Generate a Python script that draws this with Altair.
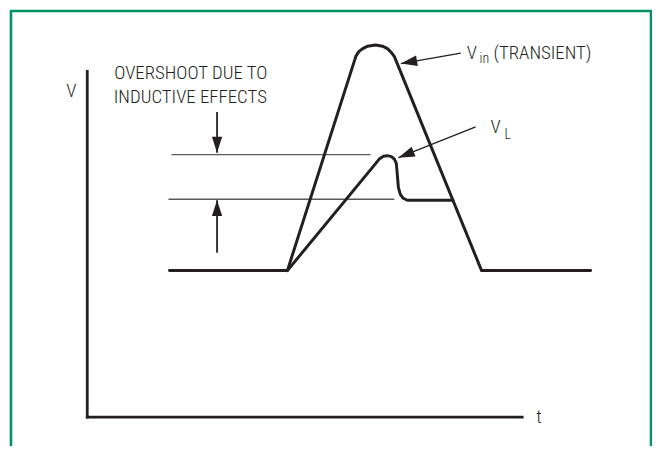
import math
import altair as alt
import pandas as pd

# ---- data, in axis units (t to the right, V upward; origin at the axes corner) ----
# V_in (transient) curve
vin_t = [83, 202, 271, 274, 278, 283, 291, 298, 303, 307, 310, 398, 508]
vin_v = [148, 148, 364, 369, 372, 374.5, 375.7, 374.5, 372, 368, 364, 148, 148]
# V_L curve
vl_t = [202, 291, 295, 299, 303, 307, 310, 312, 313, 314, 316, 319, 323, 369]
vl_v = [148, 256, 261, 263.5, 264, 263, 260.5, 256, 244, 232, 225, 221, 219, 219]
# axes
axis_names = ["yaxis", "yaxis", "xaxis", "xaxis"]
axis_t = [0, 0, 0, 439]
axis_v = [349, 0, 0, 0]
# thin reference levels (overshoot)
lvl_names = ["upper", "upper", "lower", "lower"]
lvl_t = [85, 286, 82, 310]
lvl_v = [265, 265, 220, 220]
# arrows: tail -> tip
arrow_names = ["down", "up", "vin", "vl"]
tail_t = [131, 131, 377, 392]
tail_v = [308, 166, 367.5, 293]
tip_t = [131, 131, 316.5, 314]
tip_v = [267, 219, 357, 262]
# labels
center_labels = ["OVERSHOOT DUE TO", "INDUCTIVE EFFECTS", "V", "t"]
center_t = [104.5, 104, -16, 456]
center_v = [341.5, 317, 323, -6]
left_labels = ["V", "(TRANSIENT)", "V"]
left_t = [383, 410, 407]
left_v = [362, 362, 287]
sub_labels = ["in", "L"]
sub_t = [396, 421]
sub_v = [357.5, 281]
# frame (left, top, right edges)
frame_names = ["f", "f", "f", "f"]
frame_t = [-77, -77, 569, 569]
frame_v = [-30, 410, 410, -30]

INK = "#231f20"
FONT = "Roboto Condensed, DejaVu Sans Condensed, Roboto, sans-serif"

xs = alt.Scale(domain=[-80, 570], nice=False, zero=False)
ys = alt.Scale(domain=[-27, 411], nice=False, zero=False)


def X():
    return alt.X("t:Q", scale=xs, axis=None)


def Y():
    return alt.Y("V:Q", scale=ys, axis=None)


def path_df(groups):
    rows = []
    for name, ts, vs in groups:
        for i, (a, b) in enumerate(zip(ts, vs)):
            rows.append({"g": name, "o": i, "t": a, "V": b})
    return pd.DataFrame(rows)


def split_df(names, ts, vs):
    rows = []
    cnt = {}
    for n, a, b in zip(names, ts, vs):
        cnt[n] = cnt.get(n, -1) + 1
        rows.append({"g": n, "o": cnt[n], "t": a, "V": b})
    return pd.DataFrame(rows)


curves = path_df([("vin", vin_t, vin_v), ("vl", vl_t, vl_v)])
axes_df = split_df(axis_names, axis_t, axis_v)
lvl_df = split_df(lvl_names, lvl_t, lvl_v)
frame_df = split_df(frame_names, frame_t, frame_v)

shaft_rows = []
head_rows = []
for n, a, b, c, d in zip(arrow_names, tail_t, tail_v, tip_t, tip_v):
    shaft_rows.append({"g": n, "o": 0, "t": a, "V": b})
    shaft_rows.append({"g": n, "o": 1, "t": c, "V": d})
    ang = math.degrees(math.atan2(c - a, d - b)) % 360
    head_rows.append({"g": n, "t": c, "V": d, "ang": ang})
shaft_df = pd.DataFrame(shaft_rows)
head_df = pd.DataFrame(head_rows)
vert_shafts = shaft_df[shaft_df.g.isin(["down", "up"])]
diag_shafts = shaft_df[shaft_df.g.isin(["vin", "vl"])]
vert_heads = head_df[head_df.g.isin(["down", "up"])]
diag_heads = head_df[head_df.g.isin(["vin", "vl"])]

HEAD = "M0,0L0.65,2L-0.65,2Z"


def lines(df, width, color, cap="butt"):
    return alt.Chart(df).mark_line(
        strokeWidth=width, color=color, strokeJoin="round", strokeCap=cap
    ).encode(x=X(), y=Y(), detail="g:N", order="o:Q")


def heads(df, size):
    return alt.Chart(df).mark_point(
        shape=HEAD, filled=True, color=INK, opacity=1, size=size, strokeWidth=0
    ).encode(x=X(), y=Y(), angle=alt.Angle("ang:Q", scale=None))


def texts(labels, ts, vs, align, size):
    df = pd.DataFrame({"lab": labels, "t": ts, "V": vs})
    return alt.Chart(df).mark_text(
        align=align, baseline="alphabetic", font=FONT, fontSize=size,
        fontWeight=300, color=INK
    ).encode(x=X(), y=Y(), text="lab:N")


chart = alt.layer(
    lines(frame_df, 2.6, "#00955f"),
    lines(lvl_df, 1.3, "#58595b"),
    lines(axes_df, 2.8, INK, cap="square"),
    lines(curves, 3.0, INK, cap="round"),
    lines(vert_shafts, 1.8, INK),
    lines(diag_shafts, 1.3, INK),
    heads(vert_heads, 256),
    heads(diag_heads, 272),
    texts(center_labels, center_t, center_v, "center", 19),
    texts(left_labels, left_t, left_v, "left", 19),
    texts(sub_labels, sub_t, sub_v, "left", 14),
).properties(
    width=650, height=438, autosize=alt.AutoSizeParams(type="none"), padding=0,
    background="white",
).configure_view(stroke=None)

chart.save("out.html", embed_options={"renderer": "svg", "actions": False})
